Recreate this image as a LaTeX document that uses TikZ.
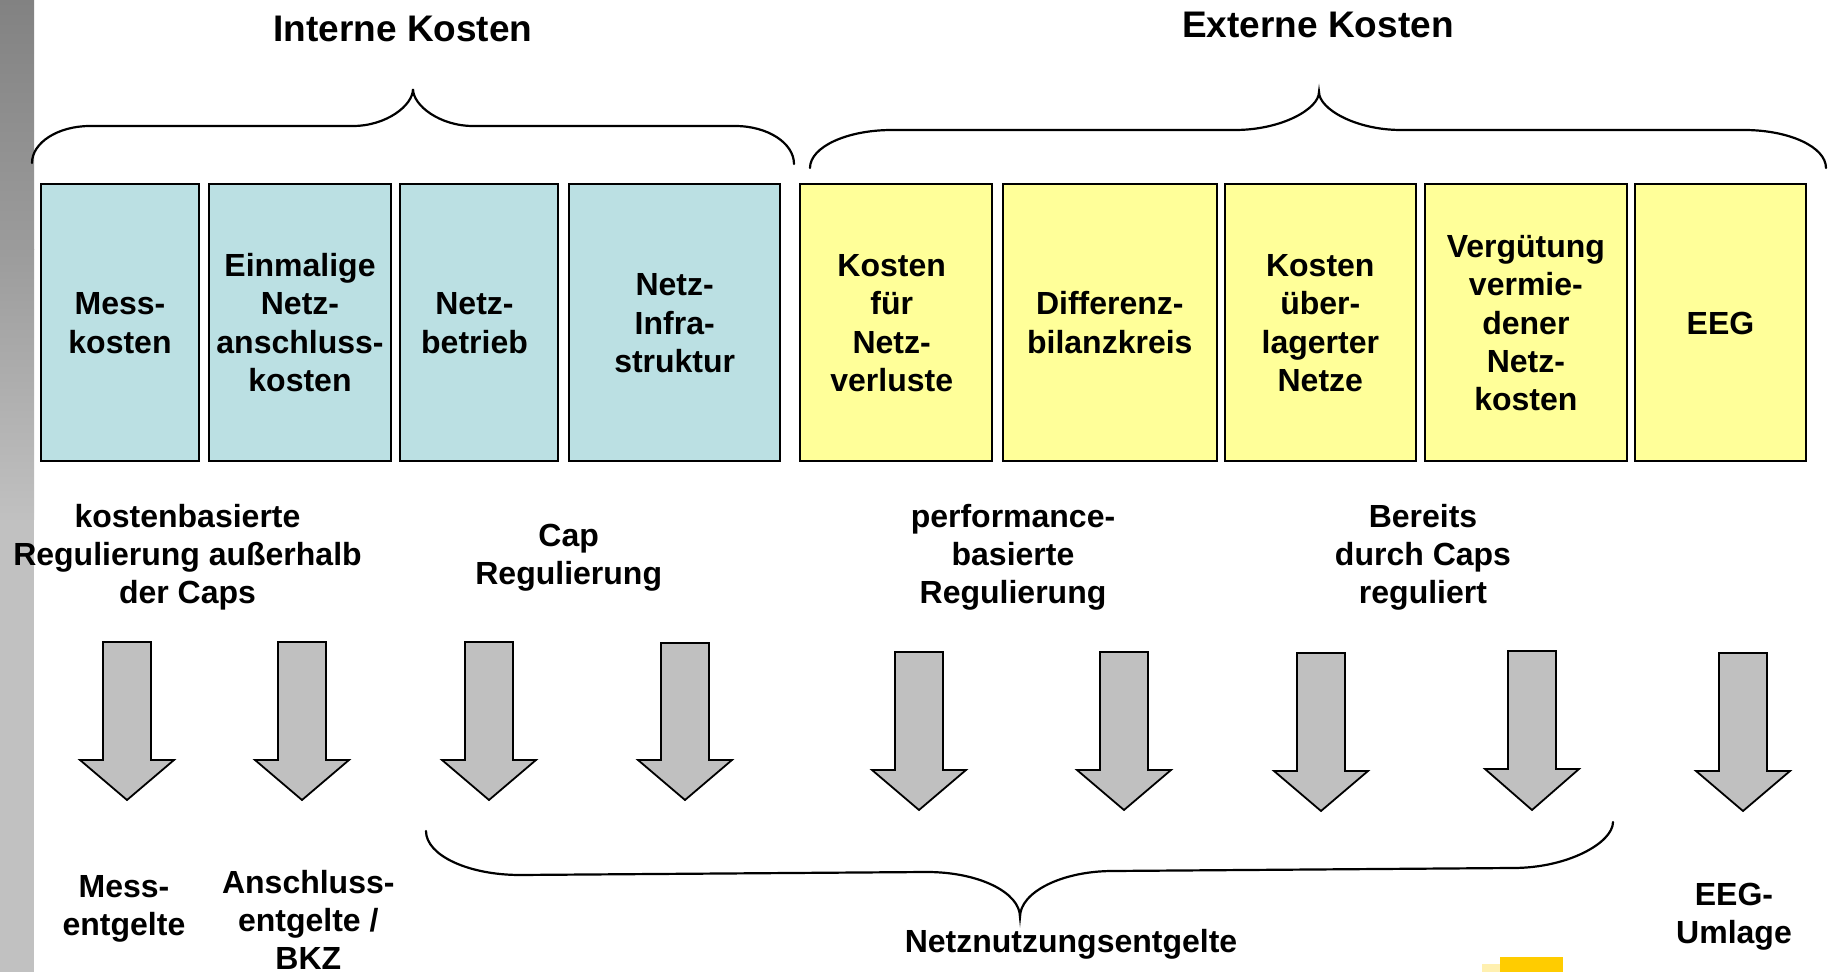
\documentclass[tikz,border=0pt]{standalone}
\usepackage{fontspec}
\setmainfont{Liberation Sans}
\definecolor{boxblue}{HTML}{BBE0E3}
\definecolor{boxyellow}{HTML}{FFFF99}
\definecolor{arrowgray}{HTML}{C0C0C0}
\definecolor{logogold}{HTML}{FFCC00}
\definecolor{logopale}{HTML}{FFF0B0}
% fixed line height so every text block is centred the same way
\newcommand\lnstrut{\rule[-3.75pt]{0pt}{19.15pt}}
% same, with the line pulled slightly to the left
\newcommand\lnleft{\rule[-3.75pt]{0pt}{19.15pt}\hspace*{-4.5pt}}
% block arrow pointing down: centre x, top, start of head, tip
\newcommand\blockarrow[4]{%
  \draw[arrowbody] ({#1-24},#2) -- ({#1+24},#2) -- ({#1+24},#3) -- ({#1+47},#3)
    -- (#1,#4) -- ({#1-47},#3) -- ({#1-24},#3) -- cycle;}
\begin{document}
\begin{tikzpicture}[x=0.5pt,y=-0.5pt,
  costbox/.style={draw=black,line width=1pt,inner sep=0pt,align=center,
    minimum height=138.5pt,font=\fontsize{16}{19.15}\selectfont\bfseries},
  internal/.style={costbox,fill=boxblue},
  external/.style={costbox,fill=boxyellow},
  label/.style={inner sep=0pt,align=center,font=\fontsize{16}{19.15}\selectfont\bfseries},
  heading/.style={inner sep=0pt,anchor=base,font=\fontsize{18.5}{22}\selectfont\bfseries},
  bracepath/.style={line width=1.1pt,line cap=round},
  arrowbody/.style={draw=black,line width=0.9pt,fill=arrowgray,line join=miter}]

\useasboundingbox (0,0) rectangle (1833,972);
\fill[white] (0,0) rectangle (1833,972);

% grey side bar
\shade[top color=gray!98!white, bottom color=gray!78!white] (0,0) rectangle (34,250);
\shade[top color=gray!78!white, bottom color=gray!49!white] (0,250) rectangle (34,520);
\fill[gray!49!white] (0,520) rectangle (34,972);

% headings
\node[heading] (intern) at (403,41.7) {Interne Kosten};
\node[heading] (extern) at (1318,38) {Externe Kosten};

% braces above the cost blocks
\draw[bracepath] (32,163) .. controls (32,142.6) and (58,126) .. (90,126)
  -- (353,126) .. controls (386,126) and (413,105.6) .. (413,89)
  .. controls (413,105.6) and (440,126) .. (473,126)
  -- (735,126) .. controls (767.6,126) and (794,143) .. (794,164);
\draw[bracepath] (810,168) .. controls (810,147) and (846.7,130) .. (892,130)
  -- (1235,130) .. controls (1281.4,130) and (1319,109) .. (1319,92)
  .. controls (1319,109) and (1355.7,130) .. (1401,130)
  -- (1744,130) .. controls (1789.3,130) and (1826,147) .. (1826,168);

% internal cost blocks
\node[internal,minimum width=79pt] (mk) at (120,322.5)
  {\lnstrut Mess-\\\lnstrut kosten};
\node[internal,minimum width=91.3pt] (enk) at (300,322.5)
  {\lnstrut Einmalige\\\lnstrut Netz-\\\lnstrut anschluss-\\\lnstrut kosten};
\node[internal,minimum width=79pt] (nb) at (479,322.5)
  {\lnleft Netz-\\\lnleft betrieb};
\node[internal,minimum width=105.35pt] (ni) at (674.7,322.5)
  {\lnstrut Netz-\\\lnstrut Infra-\\\lnstrut struktur};

% external cost blocks
\node[external,minimum width=95.8pt] (nv) at (896.2,322.5)
  {\lnleft Kosten\\\lnleft für\\\lnleft Netz-\\\lnleft verluste};
\node[external,minimum width=106.75pt] (db) at (1109.8,322.5)
  {\lnstrut Differenz-\\\lnstrut bilanzkreis};
\node[external,minimum width=95.75pt] (ul) at (1320.3,322.5)
  {\lnstrut Kosten\\\lnstrut über-\\\lnstrut lagerter\\\lnstrut Netze};
\node[external,minimum width=101.15pt] (vn) at (1525.9,322.5)
  {\lnstrut Vergütung\\\lnstrut vermie-\\\lnstrut dener\\\lnstrut Netz-\\\lnstrut kosten};
\node[external,minimum width=85.5pt] (eeg) at (1720.5,322.5)
  {\lnstrut EEG};

% kinds of regulation
\node[label] (kb) at (187.5,554)
  {\lnstrut kostenbasierte\\\lnstrut Regulierung außerhalb\\\lnstrut der Caps};
\node[label] (cap) at (568.7,554)
  {\lnstrut Cap\\\lnstrut Regulierung};
\node[label] (pb) at (1013,554)
  {\lnstrut performance-\\\lnstrut basierte\\\lnstrut Regulierung};
\node[label] (br) at (1423,554)
  {\lnstrut Bereits\\\lnstrut durch Caps\\\lnstrut reguliert};

% block arrows
\blockarrow{127}{642}{760}{800}
\blockarrow{302}{642}{760}{800}
\blockarrow{489}{642}{760}{800}
\blockarrow{685}{643}{760}{800}
\blockarrow{919}{652}{770}{810}
\blockarrow{1124}{652}{770}{810}
\blockarrow{1321}{653}{771}{811}
\blockarrow{1532}{651}{769}{810}
\blockarrow{1743}{653}{771}{811}

% brace over the network charges
\draw[bracepath] (426,831) .. controls (426,855.3) and (468.1,875) .. (520,875)
  -- (927,872) .. controls (978.3,872) and (1020,892.2) .. (1020,917)
  .. controls (1020,892.2) and (1061.7,871) .. (1113,871)
  -- (1513,868) .. controls (1568.2,868) and (1613,842.6) .. (1613,822);

% resulting charges
\node[label,anchor=north] (me) at (124,866)
  {\lnstrut Mess-\\\lnstrut entgelte};
\node[label,anchor=north] (ae) at (308.3,862)
  {\lnstrut Anschluss-\\\lnstrut entgelte /\\BKZ};
\node[label,anchor=base] (nne) at (1071,952) {Netznutzungsentgelte};
\node[label,anchor=north] (eu) at (1734,874.2)
  {\lnstrut EEG-\\\lnstrut Umlage};

% corner of the logo
\fill[logopale] (1482,964) rectangle (1500,972);
\fill[logogold] (1500,957) rectangle (1563,972);
\end{tikzpicture}
\end{document}
